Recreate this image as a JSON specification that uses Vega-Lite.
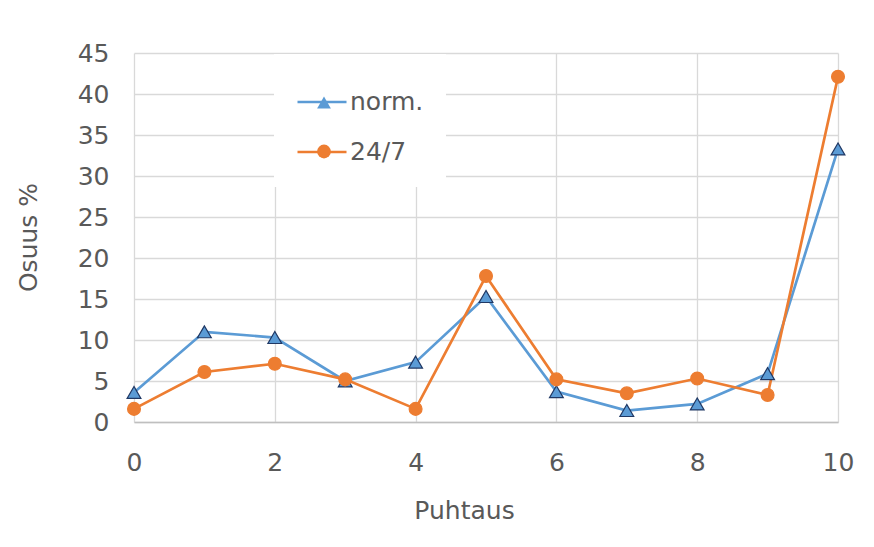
{
  "$schema": "https://vega.github.io/schema/vega-lite/v6.json",
  "width": 704,
  "height": 369,
  "autosize": {"type": "none"},
  "padding": {"left": 134, "top": 53, "right": 36, "bottom": 125},
  "background": "white",
  "config": {
    "font": "DejaVu Sans",
    "view": {"stroke": null},
    "axis": {
      "labelFont": "DejaVu Sans",
      "titleFont": "DejaVu Sans",
      "labelFontSize": 25,
      "titleFontSize": 25,
      "labelColor": "#595959",
      "titleColor": "#595959",
      "titleFontWeight": "normal",
      "ticks": false,
      "grid": true,
      "gridColor": "#d9d9d9",
      "gridWidth": 1.3
    },
    "legend": {
      "labelFont": "DejaVu Sans",
      "labelFontSize": 25,
      "labelColor": "#595959"
    }
  },
  "data": {
    "values": [
      {"puhtaus": 0, "sarja": "norm.", "osuus": 3.6},
      {"puhtaus": 1, "sarja": "norm.", "osuus": 11.0},
      {"puhtaus": 2, "sarja": "norm.", "osuus": 10.3},
      {"puhtaus": 3, "sarja": "norm.", "osuus": 5.0},
      {"puhtaus": 4, "sarja": "norm.", "osuus": 7.3},
      {"puhtaus": 5, "sarja": "norm.", "osuus": 15.3},
      {"puhtaus": 6, "sarja": "norm.", "osuus": 3.7},
      {"puhtaus": 7, "sarja": "norm.", "osuus": 1.4},
      {"puhtaus": 8, "sarja": "norm.", "osuus": 2.2},
      {"puhtaus": 9, "sarja": "norm.", "osuus": 5.9},
      {"puhtaus": 10, "sarja": "norm.", "osuus": 33.3},
      {"puhtaus": 0, "sarja": "24/7", "osuus": 1.6},
      {"puhtaus": 1, "sarja": "24/7", "osuus": 6.1},
      {"puhtaus": 2, "sarja": "24/7", "osuus": 7.1},
      {"puhtaus": 3, "sarja": "24/7", "osuus": 5.2},
      {"puhtaus": 4, "sarja": "24/7", "osuus": 1.6},
      {"puhtaus": 5, "sarja": "24/7", "osuus": 17.8},
      {"puhtaus": 6, "sarja": "24/7", "osuus": 5.2},
      {"puhtaus": 7, "sarja": "24/7", "osuus": 3.5},
      {"puhtaus": 8, "sarja": "24/7", "osuus": 5.3},
      {"puhtaus": 9, "sarja": "24/7", "osuus": 3.3},
      {"puhtaus": 10, "sarja": "24/7", "osuus": 42.1}
    ]
  },
  "encoding": {
    "x": {
      "field": "puhtaus",
      "type": "quantitative",
      "scale": {"domain": [0, 10], "nice": false},
      "axis": {
        "values": [0, 2, 4, 6, 8, 10],
        "title": "Puhtaus",
        "domain": true,
        "domainColor": "#bfbfbf",
        "domainWidth": 1.5,
        "labelFlush": false,
        "labelPadding": 28,
        "titleX": 330,
        "titleY": 96,
        "titleAlign": "center",
        "titleBaseline": "alphabetic"
      }
    },
    "y": {
      "field": "osuus",
      "type": "quantitative",
      "scale": {"domain": [0, 45], "nice": false},
      "axis": {
        "values": [0, 5, 10, 15, 20, 25, 30, 35, 40, 45],
        "title": "Osuus %",
        "domain": false,
        "labelPadding": 25,
        "titleAngle": -90,
        "titleX": -98,
        "titleY": 184,
        "titleAlign": "center",
        "titleBaseline": "alphabetic"
      }
    }
  },
  "layer": [
    {
      "mark": {"type": "line", "strokeWidth": 2.7},
      "encoding": {
        "color": {
          "field": "sarja",
          "type": "nominal",
          "scale": {"domain": ["norm.", "24/7"], "range": ["#5B9BD5", "#ED7D31"]},
          "legend": {
            "title": null,
            "orient": "none",
            "legendX": 140,
            "legendY": 1,
            "padding": 22,
            "rowPadding": 11,
            "fillColor": "white",
            "symbolType": "stroke",
            "symbolSize": 2401,
            "symbolStrokeWidth": 2.7,
            "labelOffset": 2
          }
        }
      }
    },
    {
      "mark": {"type": "point", "filled": true, "opacity": 1, "strokeWidth": 1.2},
      "encoding": {
        "color": {
          "field": "sarja",
          "type": "nominal",
          "scale": {"domain": ["norm.", "24/7"], "range": ["#5B9BD5", "#ED7D31"]},
          "legend": {
            "title": null,
            "orient": "none",
            "legendX": 155.5,
            "legendY": 15,
            "padding": 22,
            "rowPadding": 23,
            "labelExpr": "''",
            "symbolSize": 190,
            "labelOffset": 1,
            "encode": {
              "symbols": {
                "update": {
                  "stroke": {"signal": "datum.value === 'norm.' ? '#203864' : '#ED7D31'"},
                  "strokeWidth": {"value": 1.2}
                }
              }
            }
          }
        },
        "shape": {
          "field": "sarja",
          "type": "nominal",
          "scale": {"domain": ["norm.", "24/7"], "range": ["triangle-up", "circle"]}
        },
        "stroke": {
          "field": "sarja",
          "type": "nominal",
          "scale": {"domain": ["norm.", "24/7"], "range": ["#203864", "#ED7D31"]},
          "legend": null
        },
        "size": {
          "field": "sarja",
          "type": "nominal",
          "scale": {"domain": ["norm.", "24/7"], "range": [190, 165]},
          "legend": null
        }
      }
    }
  ],
  "resolve": {"legend": {"color": "independent", "shape": "independent"}}
}
